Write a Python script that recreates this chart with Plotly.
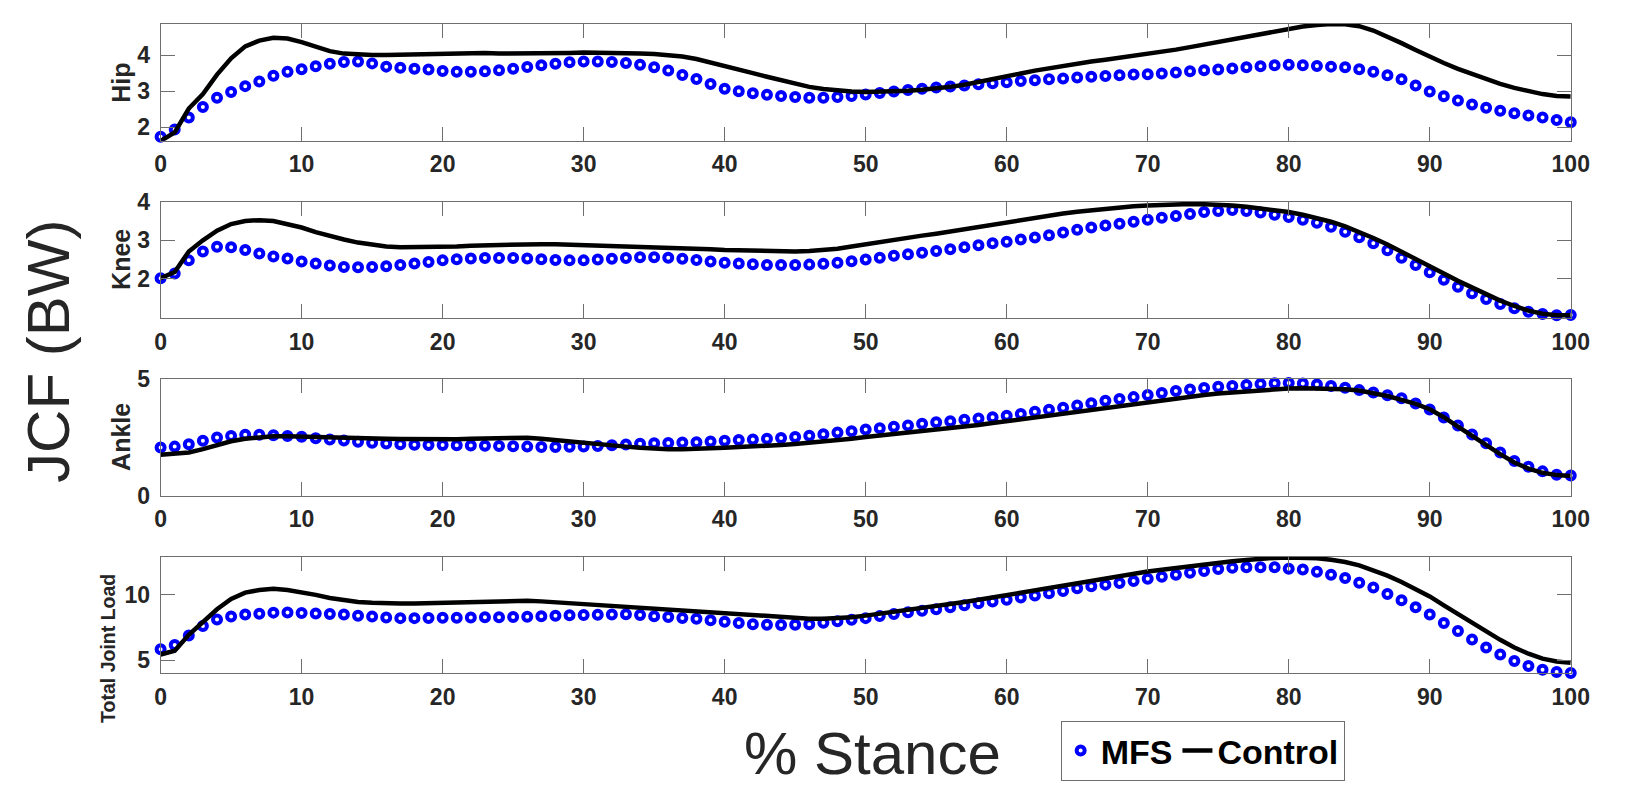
import plotly.graph_objects as go

# % of stance phase, sampled every 1 %
stance = list(range(101))

hip_mfs = [1.74, 1.94, 2.27, 2.56, 2.82, 2.98, 3.14, 3.27, 3.43, 3.54,
           3.61, 3.69, 3.76, 3.81, 3.82, 3.77, 3.68, 3.65, 3.62, 3.60,
           3.56, 3.54, 3.54, 3.55, 3.58, 3.62, 3.67, 3.72, 3.76, 3.80,
           3.82, 3.82, 3.81, 3.78, 3.73, 3.66, 3.57, 3.45, 3.34, 3.20,
           3.07, 3.00, 2.94, 2.90, 2.87, 2.84, 2.82, 2.82, 2.84, 2.87,
           2.91, 2.95, 2.99, 3.03, 3.07, 3.10, 3.13, 3.16, 3.19, 3.22,
           3.25, 3.28, 3.30, 3.33, 3.35, 3.38, 3.40, 3.42, 3.44, 3.46,
           3.47, 3.49, 3.52, 3.55, 3.58, 3.60, 3.63, 3.66, 3.69, 3.72,
           3.73, 3.72, 3.70, 3.68, 3.66, 3.61, 3.54, 3.44, 3.33, 3.16,
           2.99, 2.86, 2.74, 2.63, 2.54, 2.46, 2.39, 2.33, 2.27, 2.20, 2.14]
hip_ctrl = [1.62, 1.86, 2.52, 2.92, 3.46, 3.91, 4.24, 4.40, 4.48, 4.46,
            4.36, 4.22, 4.11, 4.04, 4.01, 4.00, 4.00, 4.01, 4.03, 4.04,
            4.05, 4.06, 4.07, 4.06, 4.04, 4.04, 4.03, 4.04, 4.05, 4.06,
            4.07, 4.07, 4.06, 4.05, 4.04, 4.03, 4.01, 3.96, 3.89, 3.80,
            3.70, 3.60, 3.50, 3.40, 3.30, 3.20, 3.12, 3.06, 3.02, 2.99,
            2.98, 2.98, 2.99, 3.01, 3.04, 3.07, 3.12, 3.18, 3.25, 3.33,
            3.41, 3.49, 3.57, 3.64, 3.71, 3.77, 3.82, 3.87, 3.92, 3.97,
            4.03, 4.09, 4.15, 4.22, 4.29, 4.37, 4.45, 4.52, 4.59, 4.66,
            4.73, 4.79, 4.83, 4.86, 4.85, 4.80, 4.68, 4.52, 4.33, 4.14,
            3.95, 3.78, 3.62, 3.47, 3.33, 3.20, 3.09, 2.99, 2.92, 2.87, 2.85]

knee_mfs = [2.02, 2.14, 2.48, 2.71, 2.83, 2.82, 2.75, 2.66, 2.58, 2.53,
            2.45, 2.40, 2.35, 2.31, 2.30, 2.31, 2.33, 2.36, 2.40, 2.44,
            2.48, 2.51, 2.53, 2.54, 2.54, 2.54, 2.53, 2.51, 2.49, 2.48,
            2.48, 2.50, 2.52, 2.54, 2.56, 2.56, 2.55, 2.52, 2.49, 2.45,
            2.42, 2.40, 2.38, 2.36, 2.36, 2.36, 2.37, 2.39, 2.42, 2.46,
            2.50, 2.55, 2.60, 2.64, 2.68, 2.72, 2.77, 2.82, 2.87, 2.92,
            2.96, 3.02, 3.07, 3.13, 3.20, 3.27, 3.33, 3.38, 3.43, 3.48,
            3.53, 3.58, 3.63, 3.68, 3.73, 3.76, 3.78, 3.76, 3.72, 3.66,
            3.60, 3.53, 3.45, 3.35, 3.22, 3.08, 2.92, 2.74, 2.55, 2.36,
            2.17, 1.98, 1.80, 1.63, 1.48, 1.35, 1.24, 1.15, 1.09, 1.06, 1.07]
knee_ctrl = [2.02, 2.18, 2.71, 3.00, 3.25, 3.42, 3.50, 3.52, 3.50, 3.42,
             3.33, 3.21, 3.11, 3.02, 2.94, 2.88, 2.84, 2.82, 2.82, 2.82,
             2.83, 2.84, 2.86, 2.87, 2.89, 2.90, 2.90, 2.90, 2.90, 2.89,
             2.88, 2.87, 2.86, 2.85, 2.84, 2.82, 2.81, 2.80, 2.78, 2.77,
             2.75, 2.74, 2.73, 2.72, 2.71, 2.71, 2.72, 2.74, 2.78, 2.84,
             2.90, 2.96, 3.02, 3.07, 3.12, 3.17, 3.23, 3.29, 3.35, 3.41,
             3.46, 3.52, 3.58, 3.64, 3.69, 3.74, 3.78, 3.82, 3.85, 3.88,
             3.90, 3.92, 3.93, 3.94, 3.93, 3.92, 3.90, 3.87, 3.83, 3.78,
             3.73, 3.66, 3.58, 3.48, 3.36, 3.22, 3.06, 2.89, 2.71, 2.52,
             2.33, 2.14, 1.95, 1.77, 1.60, 1.44, 1.30, 1.18, 1.10, 1.06, 1.06]

ankle_mfs = [2.06, 2.10, 2.20, 2.35, 2.49, 2.56, 2.61, 2.61, 2.59, 2.56,
             2.52, 2.46, 2.41, 2.36, 2.31, 2.27, 2.23, 2.20, 2.18, 2.17,
             2.17, 2.16, 2.15, 2.14, 2.13, 2.12, 2.10, 2.08, 2.08, 2.09,
             2.10, 2.13, 2.16, 2.19, 2.22, 2.24, 2.26, 2.28, 2.29, 2.32,
             2.35, 2.38, 2.41, 2.44, 2.47, 2.51, 2.57, 2.63, 2.70, 2.76,
             2.83, 2.89, 2.95, 3.01, 3.08, 3.14, 3.19, 3.25, 3.30, 3.36,
             3.42, 3.50, 3.59, 3.68, 3.77, 3.86, 3.96, 4.06, 4.14, 4.22,
             4.31, 4.40, 4.48, 4.55, 4.61, 4.66, 4.70, 4.74, 4.78, 4.81,
             4.82, 4.80, 4.76, 4.70, 4.62, 4.52, 4.42, 4.30, 4.17, 3.95,
             3.69, 3.35, 3.00, 2.62, 2.24, 1.85, 1.48, 1.24, 1.04, 0.90, 0.86]
ankle_ctrl = [1.75, 1.78, 1.85, 1.99, 2.17, 2.33, 2.44, 2.51, 2.54, 2.54,
              2.52, 2.50, 2.48, 2.47, 2.46, 2.45, 2.44, 2.43, 2.42, 2.41,
              2.41, 2.42, 2.44, 2.46, 2.48, 2.49, 2.48, 2.44, 2.38, 2.31,
              2.24, 2.19, 2.14, 2.10, 2.05, 2.01, 1.99, 1.99, 2.00, 2.02,
              2.05, 2.08, 2.10, 2.13, 2.17, 2.21, 2.26, 2.32, 2.38, 2.44,
              2.51, 2.57, 2.63, 2.69, 2.75, 2.82, 2.89, 2.96, 3.03, 3.11,
              3.19, 3.27, 3.35, 3.44, 3.53, 3.62, 3.70, 3.79, 3.87, 3.95,
              4.03, 4.10, 4.17, 4.24, 4.31, 4.38, 4.43, 4.48, 4.52, 4.56,
              4.59, 4.60, 4.60, 4.59, 4.56, 4.50, 4.40, 4.27, 4.10, 3.93,
              3.70, 3.36, 2.96, 2.56, 2.17, 1.78, 1.42, 1.16, 0.98, 0.88, 0.84]

total_mfs = [5.85, 6.17, 6.90, 7.61, 8.12, 8.34, 8.49, 8.56, 8.64, 8.65,
             8.61, 8.58, 8.54, 8.49, 8.41, 8.34, 8.27, 8.22, 8.22, 8.23,
             8.24, 8.25, 8.27, 8.28, 8.29, 8.30, 8.33, 8.37, 8.41, 8.44,
             8.46, 8.48, 8.50, 8.51, 8.45, 8.37, 8.30, 8.23, 8.17, 8.06,
             7.95, 7.85, 7.76, 7.72, 7.70, 7.72, 7.76, 7.86, 7.98, 8.10,
             8.22, 8.38, 8.54, 8.66, 8.78, 8.90, 9.05, 9.20, 9.35, 9.49,
             9.63, 9.79, 9.95, 10.12, 10.30, 10.50, 10.65, 10.78, 10.90, 11.05,
             11.22, 11.39, 11.54, 11.68, 11.83, 11.98, 12.07, 12.10, 12.10, 12.10,
             12.00, 11.93, 11.76, 11.54, 11.29, 10.92, 10.56, 10.07, 9.59, 9.05,
             8.49, 7.85, 7.24, 6.59, 5.98, 5.44, 4.95, 4.56, 4.27, 4.10, 4.02]
total_ctrl = [5.44, 5.73, 6.95, 7.93, 8.90, 9.68, 10.17, 10.37, 10.46, 10.37,
              10.20, 10.00, 9.76, 9.59, 9.46, 9.39, 9.34, 9.33, 9.34, 9.36,
              9.39, 9.42, 9.46, 9.50, 9.54, 9.56, 9.55, 9.50, 9.43, 9.35,
              9.27, 9.21, 9.15, 9.08, 9.01, 8.95, 8.88, 8.81, 8.74, 8.66,
              8.59, 8.51, 8.44, 8.36, 8.29, 8.22, 8.18, 8.17, 8.20, 8.29,
              8.41, 8.55, 8.70, 8.85, 9.00, 9.15, 9.30, 9.46, 9.62, 9.80,
              9.98, 10.17, 10.36, 10.55, 10.75, 10.95, 11.12, 11.30, 11.46, 11.62,
              11.78, 11.92, 12.06, 12.19, 12.32, 12.44, 12.56, 12.67, 12.76, 12.82,
              12.85, 12.84, 12.80, 12.68, 12.51, 12.25, 11.90, 11.47, 10.98, 10.45,
              9.88, 9.20, 8.54, 7.86, 7.20, 6.56, 5.98, 5.50, 5.12, 4.90, 4.80]

panel_names = ["Hip", "Knee", "Ankle", "Total Joint Load"]
mfs_series = [hip_mfs, knee_mfs, ankle_mfs, total_mfs]
ctrl_series = [hip_ctrl, knee_ctrl, ankle_ctrl, total_ctrl]
y_ranges = [[1.63, 4.87], [0.98, 4.0], [0.0, 5.0], [4.0, 12.9]]
y_ticks = [[2, 3, 4], [2, 3, 4], [0, 5], [5, 10]]
x_ticks = list(range(0, 101, 10))

W, H = 1638, 794
FONT = "Liberation Sans, Arial, sans-serif"
AX_COLOR = "#6e6e6e"
TXT_COLOR = "#262626"

# panel frames in pixels (left, right, top, bottom)
px_left, px_right = 157, 1589
px_rows = [(11, 132), (195, 315.7), (378.3, 499), (562.3, 682.7)]
# y-label placement (x centre, y centre, font size)
label_pos = [(116, 72, 25), (116, 255, 25), (116, 438, 25), (104, 657, 19.5)]

fig = go.Figure()
layout_axes = {}
for i in range(4):
    sfx = "" if i == 0 else str(i + 1)
    fig.add_trace(go.Scatter(
        x=stance, y=mfs_series[i], mode="markers", name="MFS",
        legendgroup="MFS", showlegend=(i == 0),
        xaxis="x" + sfx, yaxis="y" + sfx, cliponaxis=False,
        marker=dict(symbol="circle", size=8, color="white",
                    line=dict(color="#0000ff", width=4)),
    ))
    fig.add_trace(go.Scatter(
        x=stance, y=ctrl_series[i], mode="lines", name="Control",
        legendgroup="Control", showlegend=(i == 0),
        xaxis="x" + sfx, yaxis="y" + sfx, cliponaxis=False,
        line=dict(color="black", width=4.5),
    ))
    top, bot = px_rows[i]
    common = dict(showgrid=False, zeroline=False, showline=True,
                  linecolor=AX_COLOR, linewidth=1, mirror="ticks",
                  ticks="inside", ticklen=14, tickcolor=AX_COLOR, tickwidth=1,
                  tickfont=dict(family=FONT, size=23, color=TXT_COLOR, weight="bold"))
    layout_axes["xaxis" + sfx] = dict(
        domain=[px_left / W, px_right / W], anchor="y" + sfx,
        range=[0, 100], tickvals=x_ticks, ticklabelstandoff=3, **common)
    layout_axes["yaxis" + sfx] = dict(
        domain=[1 - bot / H, 1 - top / H], anchor="x" + sfx,
        range=y_ranges[i], tickvals=y_ticks[i], ticklabelstandoff=5, **common)

annotations = []
for name, (lx, ly, fs) in zip(panel_names, label_pos):
    annotations.append(dict(
        text=name, x=lx / W, y=1 - ly / H, xref="paper", yref="paper",
        xanchor="center", yanchor="middle", showarrow=False, textangle=-90,
        font=dict(family=FONT, size=fs, color=TXT_COLOR, weight="bold")))
annotations.append(dict(
    text="JCF (BW)", x=43 / W, y=1 - 350 / H, xref="paper", yref="paper",
    xanchor="center", yanchor="middle", showarrow=False, textangle=-90,
    font=dict(family=FONT, size=60, color=TXT_COLOR)))
annotations.append(dict(
    text="% Stance", x=880 / W, y=1 - 766 / H, xref="paper", yref="paper",
    xanchor="center", yanchor="middle", showarrow=False,
    font=dict(family=FONT, size=60, color=TXT_COLOR)))

fig.update_layout(
    width=W, height=H,
    margin=dict(l=0, r=0, t=0, b=0),
    paper_bgcolor="white", plot_bgcolor="white",
    annotations=annotations,
    showlegend=True,
    legend=dict(
        orientation="h", x=1071 / W, y=0.0,
        xanchor="left", yanchor="bottom",
        bordercolor=AX_COLOR, borderwidth=1, bgcolor="white",
        font=dict(family=FONT, size=34, color="black", weight="bold"),
        itemsizing="trace", tracegroupgap=0,
    ),
    **layout_axes,
)

fig.write_html("out.html")
